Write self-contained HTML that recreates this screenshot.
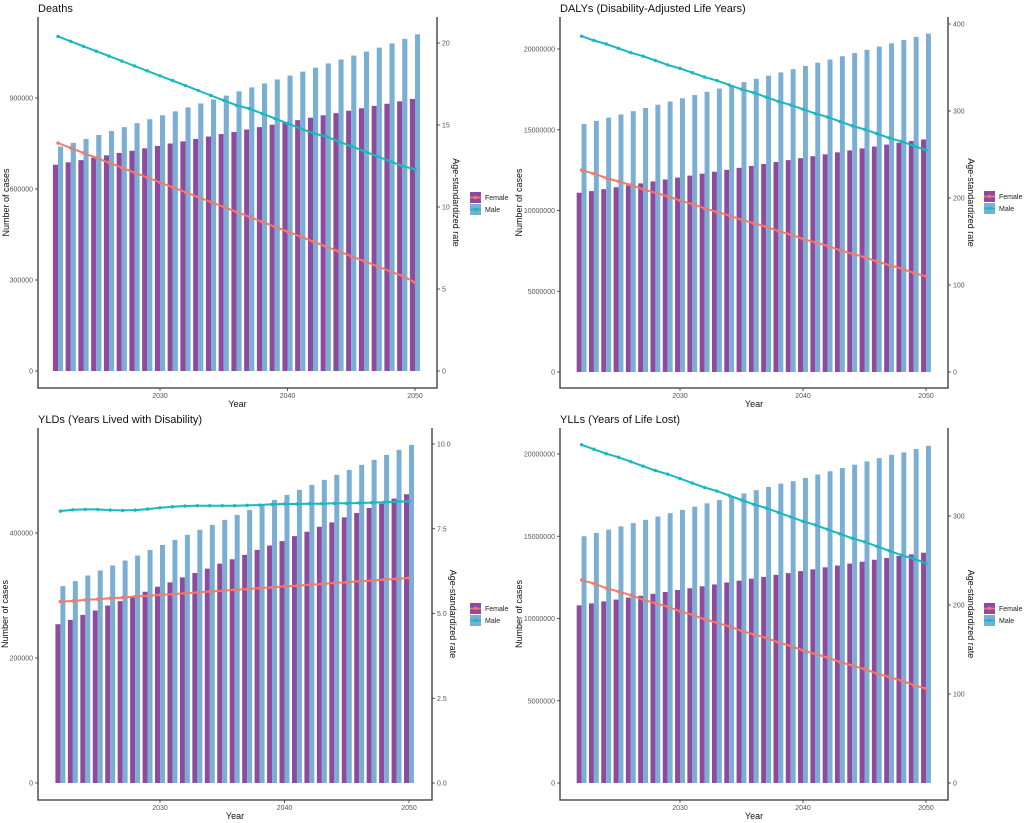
<!DOCTYPE html>
<html><head><meta charset="utf-8"><style>
html,body{margin:0;padding:0;background:#fff;width:1029px;height:823px;overflow:hidden}
svg{display:block;font-family:"Liberation Sans",sans-serif}
</style></head><body>
<svg id="chart" width="1029" height="823" viewBox="0 0 1029 823"></svg>
<script>
const years = [2022,2023,2024,2025,2026,2027,2028,2029,2030,2031,2032,2033,2034,2035,2036,2037,2038,2039,2040,2041,2042,2043,2044,2045,2046,2047,2048,2049,2050];
const xTicks = [2030,2040,2050];
const panelTitles = ["Deaths","DALYs (Disability-Adjusted Life Years)","YLDs (Years Lived with Disability)","YLLs (Years of Life Lost)"];

const deathsMaleCases = [740000,752000,765000,778000,791000,804000,817000,830000,843000,856000,869000,882000,895000,908000,922000,935000,948000,961000,974000,987000,1000000,1014000,1027000,1040000,1053000,1066000,1080000,1095000,1110000];
const deathsFemaleCases = [680000,688000,695000,703000,711000,719000,726000,734000,742000,750000,757000,765000,773000,781000,788000,796000,804000,812000,819000,827000,835000,843000,850000,858000,866000,874000,881000,889000,897000];
const deathsMaleRate = [20.4,20.1,19.8,19.5,19.2,18.9,18.6,18.3,18.0,17.7,17.4,17.1,16.8,16.5,16.2,16.0,15.7,15.4,15.1,14.8,14.5,14.3,14.0,13.7,13.4,13.1,12.8,12.5,12.3];
const deathsFemaleRate = [13.9,13.6,13.3,13.0,12.7,12.4,12.1,11.8,11.5,11.2,10.9,10.6,10.3,10.0,9.7,9.4,9.1,8.8,8.5,8.2,7.9,7.6,7.3,7.0,6.7,6.4,6.1,5.8,5.4];

const dalysMaleCases = [15350000,15550000,15750000,15950000,16150000,16350000,16550000,16750000,16950000,17150000,17350000,17550000,17750000,17950000,18150000,18350000,18550000,18750000,18950000,19150000,19350000,19550000,19750000,19950000,20150000,20350000,20550000,20750000,20950000];
const dalysFemaleCases = [11100000,11200000,11320000,11440000,11560000,11680000,11800000,11920000,12040000,12160000,12280000,12400000,12520000,12640000,12760000,12880000,13000000,13120000,13240000,13360000,13480000,13600000,13720000,13840000,13960000,14080000,14200000,14300000,14400000];
const dalysMaleRate = [386,381,377,372,367,363,358,353,349,344,339,335,330,325,321,316,311,307,302,297,293,288,283,279,274,269,265,260,255];
const dalysFemaleRate = [232,228,223,219,215,210,206,202,197,193,188,184,180,175,171,167,162,158,153,149,145,140,136,132,127,123,119,114,110];

const yldsMaleCases = [315000,323000,332000,340000,348000,356000,364000,373000,381000,389000,397000,405000,413000,421000,429000,437000,445000,453000,461000,469000,477000,485000,493000,501000,509000,517000,525000,533000,541000];
const yldsFemaleCases = [254000,261000,269000,276000,284000,291000,299000,306000,314000,321000,329000,336000,343000,351000,358000,365000,373000,380000,387000,395000,402000,410000,417000,425000,432000,440000,447000,455000,462000];
const yldsMaleRate = [8.02,8.06,8.07,8.07,8.05,8.04,8.05,8.08,8.12,8.15,8.17,8.18,8.18,8.18,8.18,8.19,8.20,8.22,8.23,8.23,8.24,8.24,8.25,8.25,8.26,8.27,8.28,8.30,8.31];
const yldsFemaleRate = [5.35,5.37,5.40,5.42,5.45,5.47,5.50,5.52,5.55,5.57,5.60,5.62,5.65,5.67,5.70,5.72,5.75,5.77,5.80,5.82,5.85,5.87,5.90,5.92,5.95,5.97,6.00,6.02,6.05];

const yllsMaleCases = [15000000,15200000,15400000,15600000,15800000,16000000,16200000,16400000,16600000,16800000,17000000,17200000,17400000,17600000,17800000,18000000,18200000,18350000,18550000,18750000,18950000,19150000,19350000,19550000,19750000,19950000,20100000,20300000,20500000];
const yllsFemaleCases = [10800000,10920000,11040000,11150000,11270000,11380000,11500000,11610000,11730000,11840000,11960000,12070000,12190000,12300000,12420000,12530000,12650000,12760000,12880000,12990000,13110000,13220000,13340000,13450000,13570000,13680000,13800000,13900000,14000000];
const yllsMaleRate = [380,375,370,366,361,356,351,347,342,337,332,328,323,318,313,309,304,299,294,290,285,280,275,271,266,261,256,252,247];
const yllsFemaleRate = [228,224,219,215,211,206,202,198,193,189,184,180,176,171,167,163,158,154,149,145,141,136,132,128,123,119,115,110,106];

const deathsLeftTicks = [0,300000,600000,900000];
const deathsRightTicks = [0,5,10,15,20];
const dalysLeftTicks = [0,5000000,10000000,15000000,20000000];
const dalysRightTicks = [0,100,200,300,400];
const yldsLeftTicks = [0,200000,400000];
const yldsRightTicks = ["0.0","2.5","5.0","7.5","10.0"];
const yllsLeftTicks = [0,5000000,10000000,15000000,20000000];
const yllsRightTicks = [0,100,200,300];

const svg = document.getElementById('chart');
const NS = 'http://www.w3.org/2000/svg';
function mk(tag, attrs, parent){const e=document.createElementNS(NS,tag);for(const k in attrs)e.setAttribute(k,attrs[k]);(parent||svg).appendChild(e);return e;}

const panels = [
 {key:'deaths',title:panelTitles[0],mc:deathsMaleCases,fc:deathsFemaleCases,mr:deathsMaleRate,fr:deathsFemaleRate,lt:deathsLeftTicks,rt:deathsRightTicks,
  L:38,R:437,top:17,axY:388,zeroY:371,lpx:91/300000,rpx:16.4,x30:160,step:12.75,legX:470,legY:192,rtX:453,ltX:9,titleY:12},
 {key:'dalys',title:panelTitles[1],mc:dalysMaleCases,fc:dalysFemaleCases,mr:dalysMaleRate,fr:dalysFemaleRate,lt:dalysLeftTicks,rt:dalysRightTicks,
  L:560,R:948,top:17,axY:388,zeroY:372,lpx:80.75/5000000,rpx:0.87,x30:680,step:12.3,legX:984,legY:191,rtX:968,ltX:522,titleY:12},
 {key:'ylds',title:panelTitles[2],mc:yldsMaleCases,fc:yldsFemaleCases,mr:yldsMaleRate,fr:yldsFemaleRate,lt:yldsLeftTicks,rt:yldsRightTicks,
  L:38,R:432,top:428,axY:800,zeroY:783,lpx:125/200000,rpx:33.9,x30:160,step:12.45,legX:470,legY:603,rtX:450,ltX:8,titleY:423},
 {key:'ylls',title:panelTitles[3],mc:yllsMaleCases,fc:yllsFemaleCases,mr:yllsMaleRate,fr:yllsFemaleRate,lt:yllsLeftTicks,rt:yllsRightTicks,
  L:560,R:948,top:428,axY:800,zeroY:783,lpx:82.25/5000000,rpx:0.89,x30:680,step:12.3,legX:984,legY:603,rtX:968,ltX:522,titleY:423}
];

const FBAR='#8E4A9F', MBAR='#7BAED3', FLINE='#F07A6E', MLINE='#18B8C0';

panels.forEach(p=>{
  const g=mk('g',{});
  
  
  const xs=y=>p.x30+(y-2030)*p.step;
  const yl=v=>p.zeroY-v*p.lpx;
  const yr=v=>p.zeroY-v*p.rpx;
  const t=mk('text',{x:p.L,y:p.titleY,'font-size':'11','fill':'#111'},g);t.textContent=p.title;
  
  
  const bw=p.step*0.4;
  years.forEach((yr_,i)=>{
    const x=xs(yr_);
    const fb=mk('rect',{x:x-bw,y:yl(p.fc[i]),width:bw,height:p.zeroY-yl(p.fc[i]),fill:FBAR},g);
    
    
    const mb=mk('rect',{x:x,y:yl(p.mc[i]),width:bw,height:p.zeroY-yl(p.mc[i]),fill:MBAR},g);
    
    
  });
  [[p.fr,FLINE,'female'],[p.mr,MLINE,'male']].forEach(([arr,c,n])=>{
    const pts=years.map((y,i)=>xs(y).toFixed(1)+','+yr(arr[i]).toFixed(1)).join(' ');
    const pl=mk('polyline',{points:pts,fill:'none',stroke:c,'stroke-width':'2'},g);
    
    
    years.forEach((y,i)=>{
      const d=mk('circle',{cx:xs(y),cy:yr(arr[i]),r:1.7,fill:c},g);
      
      
    });
  });
  const ax=mk('path',{d:`M${p.L},${p.top}V${p.axY}H${p.R}V${p.top}`,fill:'none',stroke:'#333','stroke-width':'1.3'},g);
  
  
  p.lt.forEach(v=>{
    const y=yl(v);
    mk('line',{x1:p.L-3,x2:p.L,y1:y,y2:y,stroke:'#333','stroke-width':'0.8'},g);
    const tx=mk('text',{x:p.L-5,y:y+2.5,'font-size':'7','fill':'#555','text-anchor':'end'},g);tx.textContent=v;
    
    
  });
  p.rt.forEach(v=>{
    const y=yr(parseFloat(v));
    mk('line',{x1:p.R,x2:p.R+3,y1:y,y2:y,stroke:'#333','stroke-width':'0.8'},g);
    const tx=mk('text',{x:p.R+5,y:y+2.5,'font-size':'7','fill':'#555'},g);tx.textContent=v;
    
    
  });
  xTicks.forEach(v=>{
    const x=xs(v);
    mk('line',{x1:x,x2:x,y1:p.axY,y2:p.axY+3,stroke:'#333','stroke-width':'0.8'},g);
    const tx=mk('text',{x:x,y:p.axY+10,'font-size':'7','fill':'#555','text-anchor':'middle'},g);tx.textContent=v;
    
    
  });
  const xt=mk('text',{x:(p.L+p.R)/2,y:p.axY+19,'font-size':'9','fill':'#111','text-anchor':'middle'},g);xt.textContent='Year';
  
  
  const cy=(p.top+p.axY)/2;
  const lx=p.ltX;
  const lt=mk('text',{x:lx,y:cy,'font-size':'9','fill':'#111','text-anchor':'middle',transform:`rotate(-90 ${lx} ${cy})`},g);lt.textContent='Number of cases';
  
  
  const rt=mk('text',{x:p.rtX,y:cy,'font-size':'9','fill':'#111','text-anchor':'middle',transform:`rotate(90 ${p.rtX} ${cy})`},g);rt.textContent='Age-standardized rate';
  
  
  [['Female',FBAR,FLINE],['Male',MBAR,MLINE]].forEach(([lab,bc,lc],i)=>{
    const y=p.legY+i*12;
    const lg=mk('g',{},g);
    
    
    mk('rect',{x:p.legX,y:y,width:11,height:11,fill:bc},lg);
    mk('line',{x1:p.legX,x2:p.legX+11,y1:y+5.5,y2:y+5.5,stroke:lc,'stroke-width':'1.6'},lg);
    mk('circle',{cx:p.legX+5.5,cy:y+5.5,r:1.7,fill:lc},lg);
    const tx=mk('text',{x:p.legX+15,y:y+8,'font-size':'7','fill':'#222'},lg);tx.textContent=lab;
  });
});
</script>
</body></html>
